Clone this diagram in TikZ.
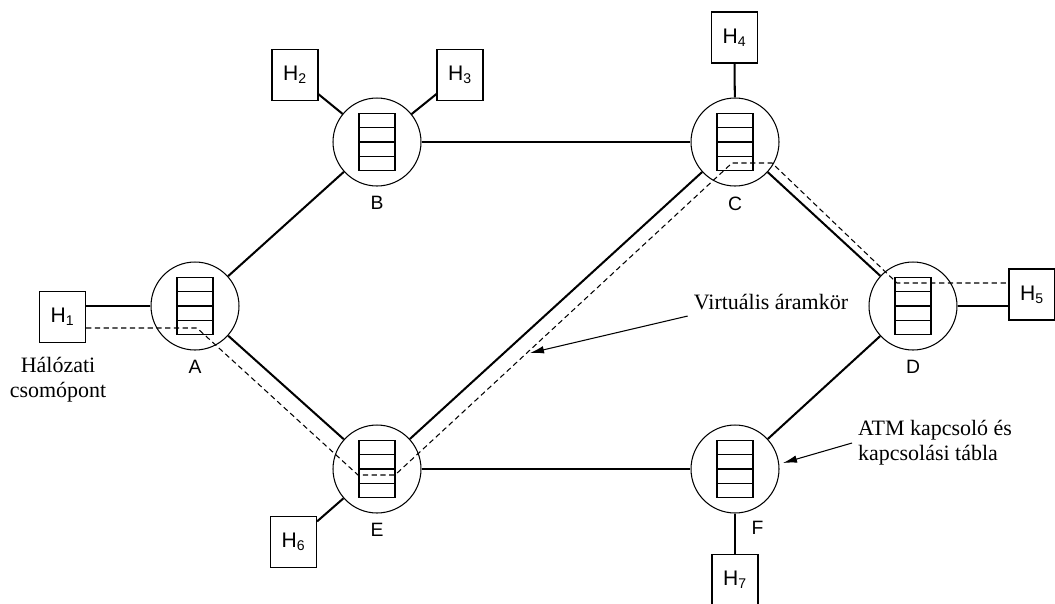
\documentclass[tikz,border=0pt]{standalone}
\usepackage{fontspec}
\setmainfont{Liberation Serif}
\setsansfont{Liberation Sans}
\usetikzlibrary{arrows.meta,calc}
\tikzstyle{switch}=[circle,draw,line width=0.6pt,minimum size=1.76cm,inner sep=0pt,
    path picture={
        \draw[line width=0.6pt] ([shift={(-0.36cm,-0.57cm)}]path picture bounding box.center) rectangle ++(0.72cm,1.14cm);
        \foreach \k in {1,2,3}
            \draw[line width=0.6pt] ([shift={(-0.36cm,{-0.57cm+\k*0.285cm})}]path picture bounding box.center) -- ++(0.72cm,0cm);
    }]
\tikzstyle{host}=[rectangle,draw,line width=0.6pt,minimum width=0.92cm,minimum height=1.02cm,inner sep=0pt,font=\sffamily\fontsize{12}{14}\selectfont]
\tikzstyle{tag}=[font=\sffamily\fontsize{11}{13}\selectfont,inner sep=1pt]
\tikzstyle{link} = [draw,line width=1.15pt]
\tikzstyle{vc} = [draw,line width=0.6pt,dash pattern=on 3pt off 2pt]
\tikzstyle{note} = [font=\fontsize{12.5}{14.2}\selectfont]
\tikzstyle{pointer} = [draw,line width=0.6pt,-{Latex[length=2.8mm,width=1.5mm]}]

\begin{document}
\begin{tikzpicture}[x=0.02cm,y=-0.02cm]
    \useasboundingbox (0,0) rectangle (1055,603);

    % switches with their queues
    \foreach \pos/\name/\side in {{(195,306)/A/below}, {(377,142)/B/below}, {(735,142)/C/below},
                                  {(913,306)/D/below}, {(377,469)/E/below}, {(735,469)/F/-74}}
        \node[switch,label={[tag,label distance=1.6mm]\side:\name}] (\name) at \pos {};

    % end hosts
    \foreach \pos/\name/\num in {{(62.5,317)/H1/1}, {(295,75)/H2/2}, {(460,75)/H3/3}, {(734.5,37.5)/H4/4},
                                 {(1032,294.5)/H5/5}, {(293.5,542)/H6/6}, {(735,580)/H7/7}}
        \node[host] (\name) at \pos {H\textsubscript{\num}};

    % trunk lines
    \foreach \source/ \dest in {A/B, B/C, A/E, E/C, C/D, E/F, D/F}
        \path[link] (\source) -- (\dest);

    % host lines
    \foreach \source/ \dest in {H2/B, H3/B, H4/C, H6/E, H7/F}
        \path[link] (\source) -- (\dest);
    \path[link] (A.west) -- (A.west -| H1.east);
    \path[link] (D.east) -- (D.east -| H5.west);

    % the virtual circuit H1 -> A -> E -> C -> D -> H5
    \draw[vc] ($(H1.east)+(0,11)$) -- ($(A)+(2,22)$) -- ($(E)+(-19,6)$) -- ($(E)+(18,6)$)
        -- ($(C)+(-3,21)$) -- ($(C)+(37,21)$) -- ($(D)+(-16,-23)$) -- ($(H5.west)+(0,-11.5)$);

    % captions
    \node[note,align=center] (hn) at (58,379.5) {Hálózati\\csomópont};
    \node[note] (virt) at (771,302) {Virtuális áramkör};
    \node[note,align=left,anchor=west] (atm) at (852,443) {ATM kapcsoló és\\kapcsolási tábla};

    \coordinate (virtTip) at (530,353);
    \coordinate (atmTip) at (783,463);
    \path[pointer] (virt.south west) -- (virtTip);
    \path[pointer] (atm.west) -- (atmTip);

\end{tikzpicture}
\end{document}
